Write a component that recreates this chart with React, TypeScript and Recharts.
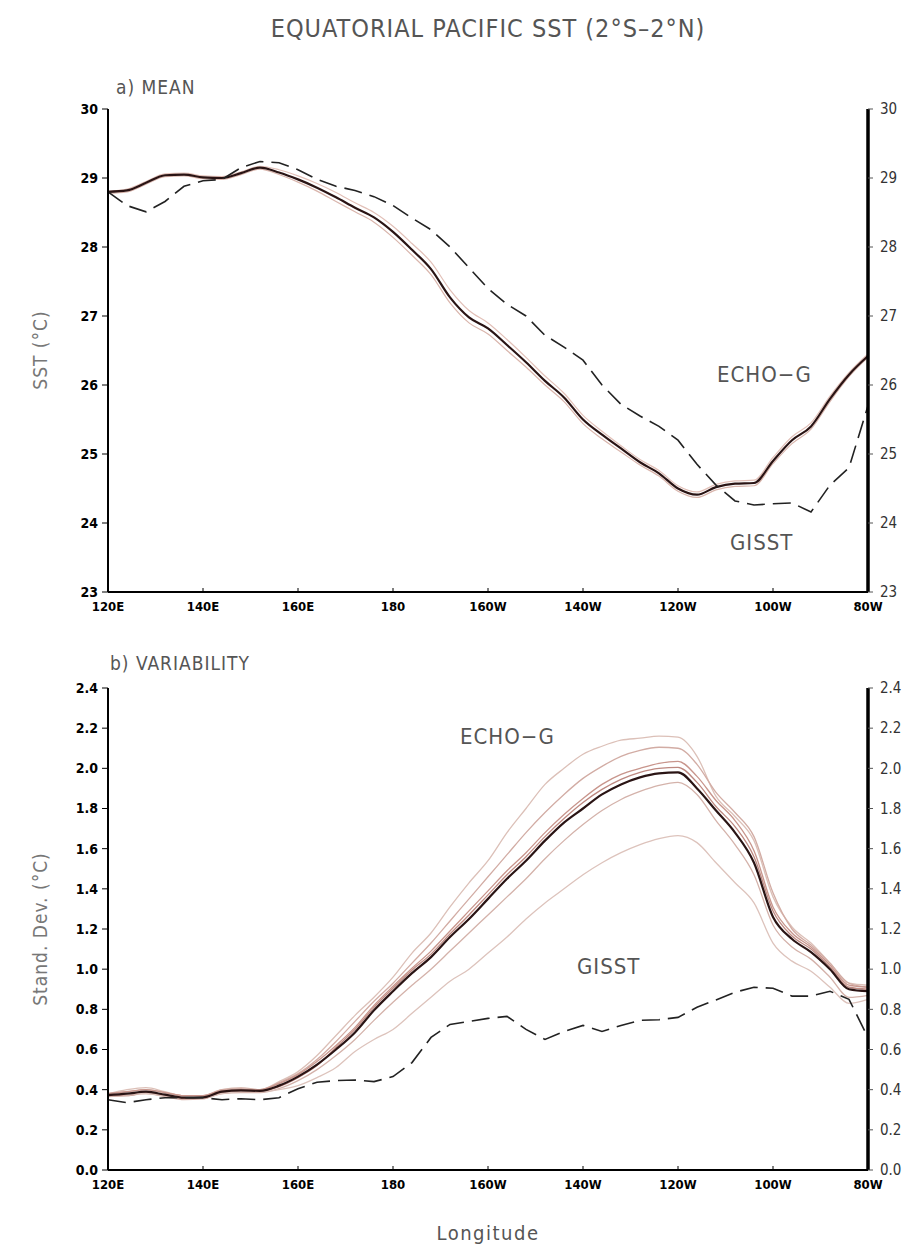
import { CSSProperties } from 'react';
import { Line, LineChart, XAxis, YAxis } from 'recharts';

// longitude grid in degrees east (120E .. 80W)
const lon = [
  120, 124, 128, 132, 136, 140, 144, 148, 152, 156, 160, 164, 168, 172, 176, 180, 184, 188, 192, 196,
  200, 204, 208, 212, 216, 220, 224, 228, 232, 236, 240, 244, 248, 252, 256, 260, 264, 268, 272, 276, 280,
];

const lonTicks = [120, 140, 160, 180, 200, 220, 240, 260, 280];
const sstTicks = [23, 24, 25, 26, 27, 28, 29, 30];
const sdTicks = [0, 0.2, 0.4, 0.6, 0.8, 1.0, 1.2, 1.4, 1.6, 1.8, 2.0, 2.2, 2.4];

// a) mean SST
const echoMean = [
  28.8, 28.82, 28.93, 29.04, 29.05, 29.01, 29.0, 29.07, 29.15, 29.08, 28.98, 28.86, 28.72, 28.57, 28.43,
  28.22, 27.96, 27.68, 27.27, 26.98, 26.82, 26.58, 26.33, 26.06, 25.82, 25.5, 25.28, 25.08, 24.88, 24.72,
  24.5, 24.41, 24.52, 24.57, 24.58, 24.9, 25.2, 25.4, 25.8, 26.15, 26.42,
];
const echoMeanRunA = [
  28.81, 28.84, 28.95, 29.06, 29.07, 29.03, 29.02, 29.09, 29.17, 29.12, 29.03, 28.92, 28.79, 28.64, 28.5,
  28.3, 28.05, 27.78, 27.38, 27.08, 26.9, 26.66, 26.4, 26.13, 25.88, 25.56, 25.33, 25.12, 24.92, 24.76,
  24.54, 24.45, 24.56, 24.61, 24.62, 24.95, 25.25, 25.45, 25.84, 26.18, 26.45,
];
const echoMeanRunB = [
  28.78, 28.8, 28.91, 29.02, 29.03, 28.99, 28.98, 29.05, 29.13, 29.05, 28.94, 28.81, 28.66, 28.51, 28.36,
  28.14, 27.88, 27.6, 27.19, 26.9, 26.74, 26.5, 26.26, 26.0, 25.76, 25.44, 25.22, 25.03, 24.84, 24.68,
  24.46, 24.37, 24.48, 24.53, 24.54, 24.86, 25.15, 25.36, 25.76, 26.12, 26.4,
];
const gisstMean = [
  28.8, 28.6, 28.51, 28.66, 28.88, 28.96, 28.98, 29.15, 29.24, 29.22, 29.12, 28.98, 28.88, 28.82, 28.73,
  28.6, 28.42, 28.25, 28.0, 27.7, 27.4, 27.17, 27.0, 26.72, 26.55, 26.36, 26.0, 25.72, 25.55, 25.4,
  25.2, 24.85, 24.55, 24.32, 24.26, 24.28, 24.29, 24.16, 24.55, 24.8, 25.7,
];

// b) standard deviation
const echoSd = [
  0.373, 0.38, 0.39, 0.375, 0.36, 0.362, 0.39, 0.396, 0.394, 0.42, 0.465, 0.525, 0.6, 0.685, 0.795,
  0.89, 0.98, 1.06, 1.16, 1.25, 1.35, 1.45, 1.54, 1.64, 1.73, 1.8, 1.87, 1.92, 1.955, 1.975,
  1.98, 1.9, 1.79, 1.68, 1.53, 1.26, 1.15, 1.085, 1.0, 0.9, 0.89,
];
const echoSdRun1 = [
  0.38, 0.4, 0.41, 0.39, 0.37, 0.37, 0.4, 0.41, 0.4, 0.44, 0.49, 0.57, 0.67, 0.77, 0.86,
  0.96, 1.08, 1.18, 1.31, 1.43, 1.54, 1.68, 1.8, 1.92, 2.0, 2.07, 2.11, 2.14, 2.15, 2.16,
  2.155, 2.06, 1.86, 1.76, 1.64, 1.36, 1.21, 1.13, 1.03, 0.93, 0.92,
];
const echoSdRun2 = [
  0.38, 0.39, 0.4, 0.385, 0.37, 0.37, 0.4, 0.405, 0.4, 0.435, 0.48, 0.55, 0.64, 0.74, 0.84,
  0.93, 1.03, 1.13, 1.24, 1.35, 1.46, 1.57, 1.68, 1.78, 1.87, 1.95, 2.01, 2.06, 2.09, 2.105,
  2.1, 2.02, 1.88, 1.78, 1.66, 1.38, 1.2, 1.12, 1.03, 0.93, 0.91,
];
const echoSdRun3 = [
  0.38, 0.39, 0.4, 0.385, 0.37, 0.37, 0.395, 0.4, 0.4, 0.43, 0.475, 0.54, 0.62, 0.71, 0.82,
  0.915, 1.005, 1.09, 1.19, 1.29, 1.39, 1.49, 1.58, 1.68, 1.77, 1.85, 1.92, 1.97, 2.0, 2.025,
  2.035, 1.96, 1.84, 1.74, 1.59, 1.31, 1.18, 1.11, 1.02, 0.92, 0.91,
];
const echoSdRun4 = [
  0.37, 0.37, 0.385, 0.37, 0.355, 0.355, 0.385, 0.39, 0.39, 0.415, 0.46, 0.52, 0.61, 0.7, 0.81,
  0.905, 0.995, 1.075, 1.175, 1.27, 1.37, 1.47, 1.56, 1.66, 1.75, 1.83, 1.895, 1.945, 1.98, 2.0,
  2.005, 1.93, 1.81, 1.71, 1.56, 1.29, 1.165, 1.1, 1.01, 0.91, 0.9,
];
const echoSdRun5 = [
  0.365, 0.37, 0.38, 0.365, 0.35, 0.355, 0.38, 0.385, 0.385, 0.405, 0.445, 0.5, 0.57, 0.65, 0.745,
  0.835, 0.92, 1.0, 1.09, 1.18, 1.27, 1.36, 1.45, 1.55, 1.64, 1.72, 1.79, 1.845, 1.885, 1.915,
  1.93, 1.87, 1.74, 1.62, 1.47, 1.22, 1.11, 1.05, 0.96, 0.86, 0.87,
];
const echoSdRun6 = [
  0.37, 0.38, 0.38, 0.37, 0.36, 0.36, 0.38, 0.39, 0.39, 0.4, 0.42, 0.46, 0.51, 0.59, 0.65,
  0.7, 0.78, 0.86, 0.94, 1.0, 1.08, 1.16, 1.25, 1.33, 1.4, 1.47, 1.53, 1.58, 1.62, 1.65,
  1.665, 1.63, 1.53, 1.43, 1.33, 1.13, 1.04, 0.99, 0.91, 0.83, 0.85,
];
const gisstSd = [
  0.35, 0.335, 0.35, 0.36, 0.36, 0.36, 0.35, 0.355, 0.35, 0.36, 0.405, 0.437, 0.445, 0.448, 0.44,
  0.465, 0.535, 0.66, 0.725, 0.74, 0.755, 0.765, 0.7, 0.65, 0.69, 0.72, 0.69, 0.72, 0.745, 0.748,
  0.76, 0.81, 0.847, 0.885, 0.91, 0.905, 0.866, 0.866, 0.89, 0.85, 0.66,
];

const meanRows = lon.map((x, i) => ({
  lon: x,
  echo: echoMean[i],
  runA: echoMeanRunA[i],
  runB: echoMeanRunB[i],
  gisst: gisstMean[i],
}));

const sdRows = lon.map((x, i) => ({
  lon: x,
  echo: echoSd[i],
  r1: echoSdRun1[i],
  r2: echoSdRun2[i],
  r3: echoSdRun3[i],
  r4: echoSdRun4[i],
  r5: echoSdRun5[i],
  r6: echoSdRun6[i],
  gisst: gisstSd[i],
}));

const lonLabel = (v: number) => (v < 180 ? `${v}E` : v === 180 ? '180' : `${360 - v}W`);

const FONT = "'DejaVu Sans Condensed', 'DejaVu Sans', sans-serif";
const leftTick = { fontSize: 14, fontWeight: 'bold', fill: '#000', fontFamily: FONT };
const rightTick = { fontSize: 15, fill: '#333', fontFamily: FONT };
const bottomTick = { fontSize: 13, fontWeight: 'bold', fill: '#000', fontFamily: FONT };

const text = (s: CSSProperties): CSSProperties => ({
  position: 'absolute',
  fontFamily: FONT,
  color: '#555',
  whiteSpace: 'nowrap',
  ...s,
});

const runColors = ['#dcc0b8', '#d2aca4', '#c8958c', '#bd8880', '#d4b2aa', '#ddc3bc'];

export default function App() {
  return (
    <div style={{ position: 'absolute', left: 0, top: 0, width: 921, height: 1248, background: '#fff' }}>
      <div style={text({ left: 0, width: 976, top: 14, fontSize: 25, textAlign: 'center', letterSpacing: 1 })}>
        EQUATORIAL PACIFIC SST (2°S–2°N)
      </div>
      <div style={text({ left: 116, top: 76, fontSize: 19, letterSpacing: 1 })}>a) MEAN</div>
      <div style={text({ left: 110, top: 652, fontSize: 19, letterSpacing: 1 })}>b) VARIABILITY</div>

      <div style={text({ left: 40, top: 350, fontSize: 19, color: '#777', transform: 'translate(-50%, -50%) rotate(-90deg)', letterSpacing: 1 })}>
        SST (°C)
      </div>
      <div style={text({ left: 40, top: 929, fontSize: 19, color: '#777', transform: 'translate(-50%, -50%) rotate(-90deg)', letterSpacing: 1 })}>
        Stand. Dev. (°C)
      </div>
      <div style={text({ left: 488, top: 1233, fontSize: 20, transform: 'translate(-50%, -50%)', letterSpacing: 1.5 })}>
        Longitude
      </div>

      <div style={text({ left: 717, top: 362, fontSize: 22, letterSpacing: 1 })}>ECHO−G</div>
      <div style={text({ left: 730, top: 530, fontSize: 22, letterSpacing: 1 })}>GISST</div>
      <div style={text({ left: 460, top: 724, fontSize: 22, letterSpacing: 1 })}>ECHO−G</div>
      <div style={text({ left: 577, top: 954, fontSize: 22, letterSpacing: 1 })}>GISST</div>

      <div style={{ position: 'absolute', left: 0, top: 0 }}>
        <LineChart width={921} height={640} data={meanRows} margin={{ top: 109, right: 0, bottom: 0, left: 0 }}>
          <XAxis
            dataKey='lon'
            type='number'
            domain={[120, 280]}
            ticks={lonTicks}
            tickFormatter={lonLabel}
            tick={bottomTick}
            height={48}
            tickSize={-4}
            tickMargin={14}
            axisLine={{ stroke: '#000', strokeWidth: 2 }}
            tickLine={{ stroke: '#000' }}
          />
          <XAxis xAxisId='top' dataKey='lon' type='number' domain={[120, 280]} orientation='top' height={0} tick={false} tickLine={false} axisLine={{ stroke: '#000', strokeWidth: 2 }} />
          <YAxis
            type='number'
            domain={[23, 30]}
            ticks={sstTicks}
            tick={leftTick}
            width={108}
            tickSize={6}
            tickMargin={4}
            axisLine={{ stroke: '#000', strokeWidth: 2 }}
            tickLine={{ stroke: '#000' }}
          />
          <YAxis
            yAxisId='right'
            orientation='right'
            type='number'
            domain={[23, 30]}
            ticks={sstTicks}
            tick={rightTick}
            width={53}
            tickSize={5}
            tickMargin={7}
            axisLine={{ stroke: '#000', strokeWidth: 3.5 }}
            tickLine={{ stroke: '#555' }}
          />
          <Line type='monotone' dataKey='runA' stroke='#e2c0b8' strokeWidth={1.2} dot={false} isAnimationActive={false} />
          <Line type='monotone' dataKey='runB' stroke='#d9b5ac' strokeWidth={1.2} dot={false} isAnimationActive={false} />
          <Line type='monotone' dataKey='echo' stroke='#2a1414' strokeWidth={2.2} dot={false} isAnimationActive={false} />
          <Line
            xAxisId='top'
            yAxisId='right'
            type='linear'
            dataKey='gisst'
            stroke='#222'
            strokeWidth={1.6}
            strokeDasharray='18 8'
            dot={false}
            isAnimationActive={false}
          />
        </LineChart>
      </div>

      <div style={{ position: 'absolute', left: 0, top: 600 }}>
        <LineChart width={921} height={648} data={sdRows} margin={{ top: 88, right: 0, bottom: 0, left: 0 }}>
          <XAxis
            dataKey='lon'
            type='number'
            domain={[120, 280]}
            ticks={lonTicks}
            tickFormatter={lonLabel}
            tick={bottomTick}
            height={78}
            tickSize={-4}
            tickMargin={14}
            axisLine={{ stroke: '#000', strokeWidth: 2 }}
            tickLine={{ stroke: '#000' }}
          />
          <XAxis xAxisId='top' dataKey='lon' type='number' domain={[120, 280]} orientation='top' height={0} tick={false} tickLine={false} axisLine={{ stroke: '#000', strokeWidth: 3.5 }} />
          <YAxis
            type='number'
            domain={[0, 2.4]}
            ticks={sdTicks}
            tickFormatter={(v: number) => v.toFixed(1)}
            tick={leftTick}
            width={108}
            tickSize={6}
            tickMargin={4}
            axisLine={{ stroke: '#000', strokeWidth: 2 }}
            tickLine={{ stroke: '#000' }}
          />
          <YAxis
            yAxisId='right'
            orientation='right'
            type='number'
            domain={[0, 2.4]}
            ticks={sdTicks}
            tickFormatter={(v: number) => v.toFixed(1)}
            tick={rightTick}
            width={53}
            tickSize={5}
            tickMargin={7}
            axisLine={{ stroke: '#000', strokeWidth: 3.5 }}
            tickLine={{ stroke: '#555' }}
          />
          {['r1', 'r2', 'r3', 'r4', 'r5', 'r6'].map((k, i) => (
            <Line key={k} type='monotone' dataKey={k} stroke={runColors[i]} strokeWidth={1.3} dot={false} isAnimationActive={false} />
          ))}
          <Line type='monotone' dataKey='echo' stroke='#2a1414' strokeWidth={2.2} dot={false} isAnimationActive={false} />
          <Line
            xAxisId='top'
            yAxisId='right'
            type='linear'
            dataKey='gisst'
            stroke='#222'
            strokeWidth={1.6}
            strokeDasharray='18 8'
            dot={false}
            isAnimationActive={false}
          />
        </LineChart>
      </div>
    </div>
  );
}
